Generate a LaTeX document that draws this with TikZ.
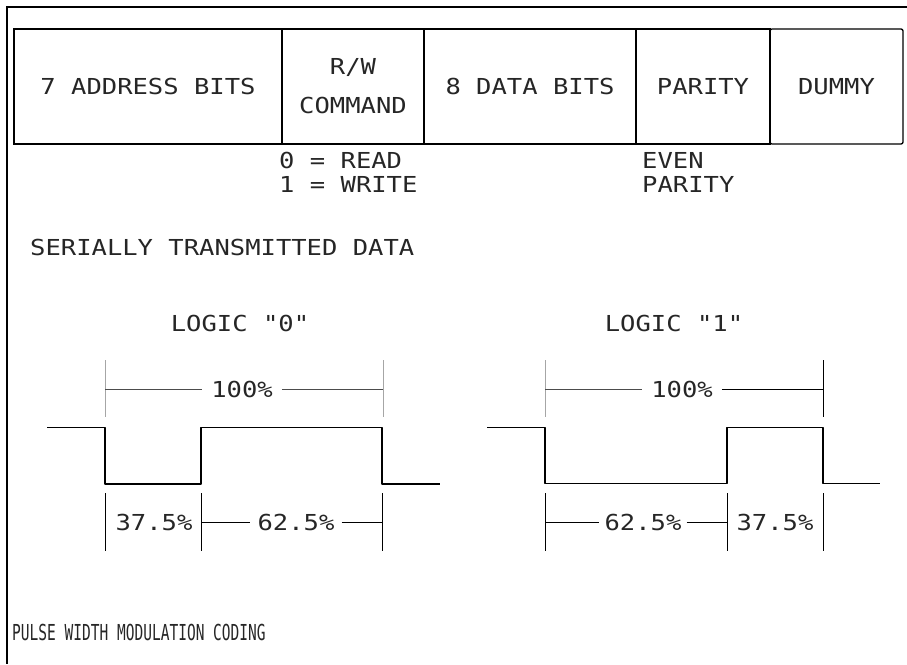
\documentclass[tikz,border=0pt]{standalone}
\usepackage{fontspec}
\newfontfamily\plotfont[FakeStretch=1.16]{DejaVu Sans Mono}
\newfontfamily\condfont[FakeStretch=0.66]{DejaVu Sans Mono}
\begin{document}
\begin{tikzpicture}[x=1pt,y=-1pt,
  lbl/.style={font=\plotfont\fontsize{22}{26}\selectfont, inner sep=0pt, text=black!85},
  field/.style={draw, line width=1.3pt, minimum height=115pt, inner sep=0pt,
                font=\plotfont\fontsize{22}{26}\selectfont, text=black!85},
  wave/.style={line width=1.4pt, line join=round},
  dimline/.style={line width=0.9pt},
  tick/.style={line width=1pt},
  faint/.style={line width=1pt, black!35},
  frame/.style={line width=1.8pt}]
\useasboundingbox (0,0) rectangle (907,664);

% outer frame
\coordinate (fr1) at (907,7);
\coordinate (fr2) at (7,7);
\coordinate (fr3) at (7,664);
\draw[frame] (fr1) -- (fr2) -- (fr3);

% data frame fields
\node[field, minimum width=268pt] (addr) at (148,86.5) {7 ADDRESS BITS};
\node[field, minimum width=142pt] (rw) at (353,86.5) {};
\node[lbl] (rwa) at (353,67) {R/W};
\node[lbl] (rwb) at (353,105) {COMMAND};
\node[field, minimum width=212pt] (data) at (530,86.5) {8 DATA BITS};
\node[field, minimum width=134pt] (par) at (703,86.5) {PARITY};
\node[field, minimum width=133pt, rounded corners=2pt] (dummy) at (836.5,86.5) {DUMMY};

\node[lbl, anchor=west] (rd) at (279,160) {0 = READ};
\node[lbl, anchor=west] (wr) at (279,184) {1 = WRITE};
\node[lbl, anchor=west] (ev) at (642,160) {EVEN};
\node[lbl, anchor=west] (evp) at (642,184) {PARITY};

\node[lbl, anchor=west] (ser) at (30,247) {SERIALLY TRANSMITTED DATA};

% ---------- LOGIC 0 ----------
\node[lbl] (l0) at (240,323) {LOGIC "0"};
\coordinate (a1t) at (105,360); \coordinate (a1b) at (105,417);
\coordinate (a2t) at (383,360); \coordinate (a2b) at (383,417);
\draw[faint] (a1t) -- (a1b);
\draw[faint] (a2t) -- (a2b);
\node[lbl, inner xsep=9pt] (h0) at (242,389) {100\%};
\coordinate (a1m) at (105,389); \coordinate (a2m) at (383,389);
\draw[dimline, black!70] (a1m) -- (h0.west);
\draw[dimline, black!70] (h0.east) -- (a2m);

\coordinate (w0a) at (47,427.5);
\coordinate (w0b) at (105,427.5);
\coordinate (w0c) at (105,484);
\coordinate (w0d) at (201,484);
\coordinate (w0e) at (201,427.5);
\coordinate (w0f) at (382,427.5);
\coordinate (w0g) at (382,484);
\coordinate (w0h) at (440,484);
\draw[wave] (w0a) -- (w0b) -- (w0c) -- (w0d) -- (w0e) -- (w0f) -- (w0g) -- (w0h);

\coordinate (b1t) at (105,493); \coordinate (b1b) at (105,551);
\coordinate (b2t) at (201,493); \coordinate (b2b) at (201,551);
\coordinate (b3t) at (382,493); \coordinate (b3b) at (382,551);
\draw[tick] (b1t) -- (b1b);
\draw[tick] (b2t) -- (b2b);
\draw[tick] (b3t) -- (b3b);
\node[lbl] (p37a) at (154,522) {37.5\%};
\node[lbl, inner xsep=7pt] (p62a) at (296,522) {62.5\%};
\coordinate (b2m) at (201,522); \coordinate (b3m) at (382,522);
\draw[dimline] (b2m) -- (p62a.west);
\draw[dimline] (p62a.east) -- (b3m);

% ---------- LOGIC 1 ----------
\node[lbl] (l1) at (674,323) {LOGIC "1"};
\coordinate (c1t) at (545,360); \coordinate (c1b) at (545,417);
\coordinate (c2t) at (823,360); \coordinate (c2b) at (823,417);
\draw[faint] (c1t) -- (c1b);
\draw[tick] (c2t) -- (c2b);
\node[lbl, inner xsep=9pt] (h1) at (682,389) {100\%};
\coordinate (c1m) at (545,389); \coordinate (c2m) at (823,389);
\draw[dimline, black!70] (c1m) -- (h1.west);
\draw[dimline] (h1.east) -- (c2m);

\coordinate (w1a) at (487,427.5);
\coordinate (w1b) at (545,427.5);
\coordinate (w1c) at (545,483.5);
\coordinate (w1d) at (727,483.5);
\coordinate (w1e) at (727,427.5);
\coordinate (w1f) at (823,427.5);
\coordinate (w1g) at (823,483.5);
\coordinate (w1h) at (880,483.5);
\draw[wave] (w1a) -- (w1b) -- (w1c) -- (w1d) -- (w1e) -- (w1f) -- (w1g) -- (w1h);

\coordinate (d1t) at (545,493); \coordinate (d1b) at (545,551);
\coordinate (d2t) at (727,493); \coordinate (d2b) at (727,551);
\coordinate (d3t) at (823,493); \coordinate (d3b) at (823,551);
\draw[tick] (d1t) -- (d1b);
\draw[tick] (d2t) -- (d2b);
\draw[tick] (d3t) -- (d3b);
\node[lbl, inner xsep=5pt] (p62b) at (643,522) {62.5\%};
\node[lbl] (p37b) at (775,522) {37.5\%};
\coordinate (d1m) at (545,522); \coordinate (d2m) at (727,522);
\draw[dimline] (d1m) -- (p62b.west);
\draw[dimline] (p62b.east) -- (d2m);

\node[lbl, anchor=west, font=\condfont\fontsize{22}{26}\selectfont] (pwm) at (12,632) {PULSE WIDTH MODULATION CODING};
\end{tikzpicture}
\end{document}
